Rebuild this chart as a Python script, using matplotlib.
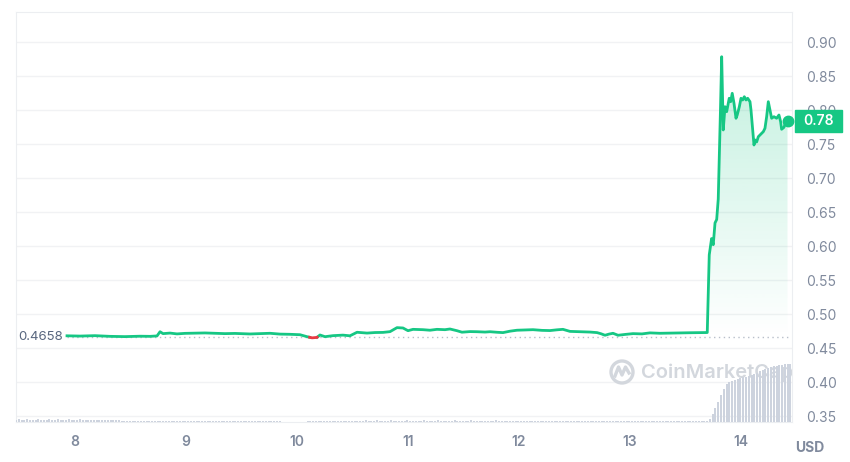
import numpy as np
import matplotlib
matplotlib.use("Agg")
import matplotlib.pyplot as plt
from matplotlib.colors import to_rgb
from matplotlib.path import Path
from matplotlib.patches import Circle, Rectangle
from matplotlib.transforms import IdentityTransform, blended_transform_factory

plt.rcParams['font.family'] = ['Inter', 'DejaVu Sans']

# price, x = day of month
price_days = [7.928, 8.045, 8.180, 8.315, 8.450, 8.586, 8.676, 8.739, 8.766, 8.793,
              8.856, 8.919, 8.991, 9.081, 9.171, 9.261, 9.351, 9.441, 9.577, 9.667,
              9.757, 9.847, 9.937, 10.027, 10.090, 10.135, 10.180, 10.207, 10.252, 10.324,
              10.414, 10.477, 10.541, 10.631, 10.703, 10.775, 10.838, 10.901, 10.955, 11.000,
              11.045, 11.135, 11.198, 11.261, 11.333, 11.378, 11.441, 11.486, 11.559, 11.622,
              11.694, 11.739, 11.802, 11.856, 11.919, 11.982, 12.054, 12.126, 12.207, 12.279,
              12.342, 12.396, 12.459, 12.523, 12.577, 12.640, 12.703, 12.739, 12.775, 12.811,
              12.847, 12.892, 12.955, 13.027, 13.108, 13.180, 13.270, 13.360, 13.450, 13.541,
              13.631, 13.696, 13.714, 13.725, 13.735, 13.750, 13.766, 13.781, 13.795, 13.804,
              13.815, 13.826, 13.840, 13.856, 13.871, 13.894, 13.907, 13.921, 13.937, 13.955,
              13.966, 13.985, 14.000, 14.015, 14.030, 14.045, 14.060, 14.081, 14.090, 14.105,
              14.117, 14.129, 14.141, 14.156, 14.186, 14.201, 14.216, 14.231, 14.246, 14.261,
              14.276, 14.297, 14.321, 14.342, 14.357, 14.366, 14.387, 14.405, 14.419]
price_usd = [0.4680, 0.4676, 0.4682, 0.4672, 0.4668, 0.4674, 0.4672, 0.4678, 0.4740, 0.4712,
             0.4720, 0.4708, 0.4716, 0.4719, 0.4722, 0.4717, 0.4712, 0.4715, 0.4707, 0.4712,
             0.4717, 0.4705, 0.4702, 0.4696, 0.4667, 0.4650, 0.4656, 0.4692, 0.4667, 0.4682,
             0.4690, 0.4680, 0.4732, 0.4720, 0.4728, 0.4730, 0.4741, 0.4800, 0.4795, 0.4755,
             0.4775, 0.4770, 0.4762, 0.4775, 0.4770, 0.4780, 0.4755, 0.4733, 0.4742, 0.4740,
             0.4735, 0.4740, 0.4732, 0.4727, 0.4748, 0.4762, 0.4766, 0.4770, 0.4760, 0.4757,
             0.4768, 0.4775, 0.4745, 0.4742, 0.4740, 0.4735, 0.4727, 0.4710, 0.4688, 0.4705,
             0.4717, 0.4688, 0.4700, 0.4712, 0.4708, 0.4723, 0.4717, 0.4720, 0.4722, 0.4725,
             0.4727, 0.4728, 0.5870, 0.6000, 0.6110, 0.6020, 0.6340, 0.6390, 0.6690, 0.7266,
             0.8000, 0.8784, 0.7707, 0.8049, 0.7976, 0.8173, 0.8123, 0.8246, 0.8099, 0.7879,
             0.7927, 0.8049, 0.8173, 0.8148, 0.8196, 0.8148, 0.8173, 0.8123, 0.8001, 0.7707,
             0.7486, 0.7559, 0.7530, 0.7608, 0.7658, 0.7682, 0.7732, 0.7902, 0.8123, 0.8001,
             0.7879, 0.7902, 0.7879, 0.7927, 0.7829, 0.7717, 0.7746, 0.7829, 0.7840]
open_price = 0.4658

# volume bars, one every 0.025 day from 7.47
vol_start = 7.47
vol_step = 0.025
volume = [24, 26, 22, 25, 27, 23, 25, 24, 26, 22, 25, 23, 27, 24, 22, 26, 25, 23, 24, 26,
          25, 22, 24, 26, 23, 25, 21, 24, 22, 25, 23, 20, 22, 24, 21, 23, 20, 22, 12, 10,
          10, 12, 9, 11, 10, 8, 11, 10, 12, 9, 10, 11, 9, 10, 12, 10, 9, 11, 10, 9,
          11, 10, 9, 12, 10, 11, 9, 10, 8, 11, 10, 9, 10, 11, 12, 9, 10, 11, 10, 9,
          10, 9, 11, 10, 8, 10, 9, 11, 10, 9, 10, 8, 9, 11, 10, 9, 0, 0, 0, 0,
          0, 0, 0, 0, 0, 9, 10, 9, 10, 8, 9, 10, 9, 11, 10, 9, 10, 9, 10, 11,
          13, 14, 12, 15, 13, 14, 16, 13, 15, 14, 16, 15, 13, 15, 14, 16, 15, 14, 13, 15,
          14, 16, 15, 13, 15, 14, 15, 16, 14, 13, 15, 14, 16, 15, 14, 13, 15, 14, 16, 15,
          14, 15, 13, 14, 16, 15, 14, 13, 15, 14, 15, 13, 14, 16, 14, 15, 13, 14, 15, 14,
          13, 15, 14, 13, 14, 15, 13, 14, 12, 13, 15, 14, 13, 14, 12, 13, 14, 13, 12, 14,
          13, 12, 14, 13, 12, 13, 14, 12, 13, 12, 11, 13, 12, 14, 12, 11, 13, 12, 11, 12,
          12, 11, 13, 12, 11, 12, 10, 12, 11, 13, 12, 11, 10, 12, 11, 10, 12, 11, 10, 12,
          11, 10, 12, 11, 10, 12, 11, 13, 12,
          10, 30, 80, 140, 200, 270, 330, 380, 400, 410, 420, 430, 440, 450, 450, 460,
          470, 480, 490, 510, 520, 530, 540, 550, 560, 560, 570, 570, 580, 580, 580]

x_ticks = [8, 9, 10, 11, 12, 13, 14]
y_ticks = [0.35, 0.40, 0.45, 0.50, 0.55, 0.60, 0.65, 0.70, 0.75, 0.80, 0.85, 0.90]

green = '#16c784'
red = '#ea3943'
grey = '#808a9d'

fig = plt.figure(figsize=(8.5, 4.62), dpi=100)
ax = fig.add_axes([16/850, 40/462, 776/850, 410/462])

t = np.array(price_days)
p = np.array(price_usd)

# split line at the crossings of the open price
tt, pp = [t[0]], [p[0]]
for i in range(1, len(t)):
    a, b = p[i-1] - open_price, p[i] - open_price
    if a * b < 0:
        f = a / (a - b)
        tt.append(t[i-1] + f * (t[i] - t[i-1]))
        pp.append(open_price)
    tt.append(t[i])
    pp.append(p[i])
tt, pp = np.array(tt), np.array(pp)
up = np.where(pp >= open_price, pp, np.nan)
dn = np.where(pp <= open_price, pp, np.nan)

# gradient fill above the open price
poly = ax.fill_between(tt, pp, open_price, where=pp >= open_price, interpolate=True,
                       color='none', lw=0)
clip = Path.make_compound_path(*poly.get_paths())
grad = np.zeros((256, 1, 4))
grad[..., :3] = to_rgb(green)
grad[:, 0, 3] = np.linspace(0.26, 0.0, 256)
im = ax.imshow(grad, aspect='auto', origin='upper', zorder=1,
               extent=[tt[0], tt[-1], open_price, pp.max()])
im.set_clip_path(clip, ax.transData)

ax.plot(tt, up, color=green, lw=2.0, zorder=3, solid_joinstyle='round')
ax.plot(tt, dn, color=red, lw=2.0, zorder=3)
ax.plot([t[0], t[-1]], [open_price, open_price], color='#b8bfca', lw=1,
        ls=(0, (1, 2.5)), zorder=2)
ax.annotate(f"{open_price:.4f}", xy=(t[0], open_price), xytext=(-3, 0),
            textcoords='offset points', ha='right', va='center',
            color='#58667e', fontsize=9.5)
ax.plot(t[-1], p[-1], 'o', ms=7.5, color=green, zorder=4, clip_on=False)

# last price tag
tr = blended_transform_factory(ax.transAxes, ax.transData)
box_h = 22 / 680
ax.add_patch(Rectangle((1 + 3/776, p[-1] - box_h/2), 47/776, box_h, transform=tr,
                       color=green, clip_on=False, zorder=5))
ax.text(1 + 26.5/776, p[-1], f"{p[-1]:.2f}", transform=tr, color='white',
        ha='center', va='center', fontsize=10, fontweight='semibold', zorder=6)

ax.set_xlim(7.4685, 14.4595)
ax.set_ylim(0.34124, 0.94418)
ax.set_xticks(x_ticks)
ax.set_yticks(y_ticks, labels=[f"{v:.2f}" for v in y_ticks])
ax.grid(axis='y', color='#f1f2f4', lw=1)
ax.set_axisbelow(True)
for s in ax.spines.values():
    s.set_color('#eceef1')

# volume
ax2 = ax.twinx()
vt = vol_start + vol_step * np.arange(len(volume))
ax2.bar(vt, volume, width=0.018, color='#cdd3de', zorder=2)
ax2.set_ylim(0, max(volume) * 7.07)
ax2.set_yticks([])
for s in ax2.spines.values():
    s.set_visible(False)

# watermark
wm = '#d3d7dd'
ax2.add_patch(Circle((622, 90), 11, transform=IdentityTransform(), fill=False,
                     ec=wm, lw=2.4, zorder=1))
ax2.add_line(plt.Line2D([615, 618.5, 622, 625.5, 629], [86, 95, 87, 95, 89],
                        transform=IdentityTransform(), color=wm, lw=2.4, zorder=1))
wt = ax2.text(641, 89, 'CoinMarketCap', transform=IdentityTransform(), color=wm,
              fontsize=14.5, fontweight='semibold', va='center', ha='left', zorder=1)
wt.set_clip_on(True)
wt.set_clip_box(ax2.bbox)

ax.yaxis.tick_right()
ax.tick_params(axis='y', length=0, pad=10, labelsize=10, labelcolor=grey)
ax.tick_params(axis='x', length=0, pad=9, labelsize=10, labelcolor=grey)
for lbl in ax.get_xticklabels():
    lbl.set_fontweight('semibold')

fig.text(810/850, 1 - 448/462, 'USD', ha='center', va='center', color=grey,
         fontsize=10, fontweight='bold')

fig.savefig('out.png', dpi=100, facecolor='white')
